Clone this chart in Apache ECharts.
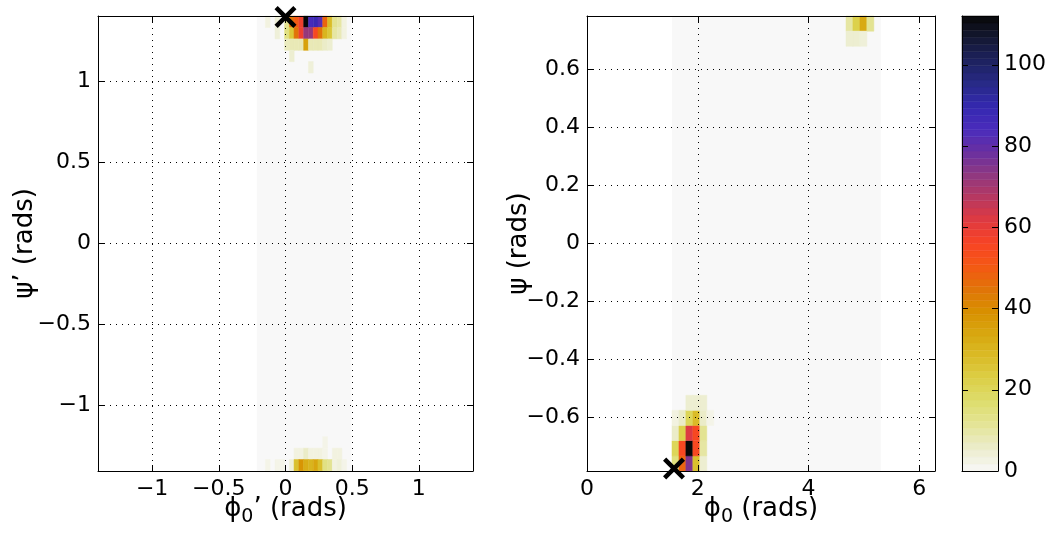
<!DOCTYPE html>
<html><head><meta charset="utf-8">
<script src="https://cdn.jsdelivr.net/npm/echarts@6/dist/echarts.min.js"></script>
<style>html,body{margin:0;padding:0;background:#fff}#c{width:1045px;height:536px}</style>
</head><body><div id="c"></div>
<script>
// ---------------- data ----------------
// left panel: column centres (phi0'), row centres (psi'), counts
const leftColX = [-0.133,-0.097,-0.061,-0.025,0.011,0.047,0.082,0.118,0.154,0.190,0.226,0.261,0.297,0.333,0.369,0.405,0.440];
const leftTopRowY = [1.370, 1.300, 1.229, 1.159, 1.089];
const leftTopVals = [
  [3,0,4,0,12,45,50,58,112,85,88,82,48,28,12,10,3],
  [0,0,4,0,14,25,45,58,72,72,55,45,30,25,10,8,3],
  [0,0,0,0,7,8,8,8,35,8,8,8,6,5,0,0,0],
  [0,0,0,0,0,5,0,0,0,0,0,0,0,0,0,0,0],
  [0,0,0,0,0,0,0,0,0,4,0,0,0,0,0,0,0]
];
const leftBotRowY = [-1.229, -1.300, -1.370];
const leftBotVals = [
  [0,0,0,0,0,0,0,0,0,0,0,0,2,0,0,0,0],
  [0,0,0,0,0,0,3,3,6,3,3,3,2,0,3,3,0],
  [2,0,2,2,0,4,27,38,32,30,34,27,14,12,3,4,2]
];
const leftBand = [-0.215, 0.494];          // phi0' range of sampled (zero-count) cells
const leftMarker = [[0.0, 1.40]];

// right panel
const rightColX = [1.597,1.723,1.848,1.974,2.100,2.225];
const rightBotRowY = [-0.759,-0.707,-0.654,-0.602,-0.550];
const rightBotVals = [
  [15,48,75,27,5,0],
  [20,55,112,55,10,0],
  [6,22,62,55,12,0],
  [3,6,20,28,6,2],
  [0,0,5,5,5,0]
];
const rightTopColX = [4.739,4.864,4.990,5.116];
const rightTopRowY = [0.759, 0.707];
const rightTopVals = [
  [10,22,33,12],
  [5,5,4,0]
];
const rightBand = [1.534, 5.304];
const rightMarker = [[1.571, -0.777]];

// axis ranges / ticks
const leftRange = [-1.406, 1.406];
const rightXRange = [0, 2*Math.PI];
const rightYRange = [-Math.PI/4, Math.PI/4];
const cbarMax = 112;

// colormap (0 -> 112)
const cmap = ['#f8f8f8','#ecedcc','#e4e498','#dede70','#dcd048','#dabc28','#d8a810','#d89000',
  '#e07408','#f45814','#f84424','#e03a40','#b83860','#903880','#6a30a0','#4a2cbc','#3428b0',
  '#282a88','#1e2260','#141834','#080808'];

// ---------------- build ----------------
function cells(colX, rowY, vals){
  const out = [];
  rowY.forEach((y,r)=>colX.forEach((x,c)=>{ const v = vals[r][c]; if (v>0) out.push([x,y,v]); }));
  return out;
}
const leftData = cells(leftColX, leftTopRowY, leftTopVals).concat(cells(leftColX, leftBotRowY, leftBotVals));
const rightData = cells(rightColX, rightBotRowY, rightBotVals).concat(cells(rightTopColX, rightTopRowY, rightTopVals));
const NLEV = 64;
const cbarData = [];
for (let k=0;k<NLEV;k++){ const v=(k+0.5)*cbarMax/NLEV; cbarData.push([0.5, v, v]); }

const FONT = 'DejaVu Sans';
const LDX = 0.03583, LDY = 0.07025, RDX = 2*Math.PI/50, RDY = Math.PI/60;

function cellRender(dx, dy){
  return function(params, api){
    const x = api.value(0), y = api.value(1);
    const p0 = api.coord([x-dx/2, y+dy/2]);
    const p1 = api.coord([x+dx/2, y-dy/2]);
    const c = api.visual('color');
    const rect = echarts.graphic.clipRectByRect(
      {x:p0[0], y:p0[1], width:p1[0]-p0[0], height:p1[1]-p0[1]},
      {x:params.coordSys.x, y:params.coordSys.y, width:params.coordSys.width, height:params.coordSys.height});
    if (!rect) return;
    return {type:'rect', shape:rect, style:{fill:c, stroke:c, lineWidth:0.5}};
  };
}
function bandRender(ymin, ymax){
  return function(params, api){
    const p0 = api.coord([api.value(0), ymax]);
    const p1 = api.coord([api.value(1), ymin]);
    return {type:'rect', shape:{x:p0[0], y:p0[1], width:p1[0]-p0[0], height:p1[1]-p0[1]}, style:{fill:cmap[0]}};
  };
}
function cbarRender(params, api){
  const v = api.value(1), h = cbarMax/NLEV;
  const p0 = api.coord([0, v+h/2]);
  const p1 = api.coord([1, v-h/2]);
  const c = api.visual('color');
  return {type:'rect', shape:{x:p0[0], y:p0[1], width:p1[0]-p0[0], height:p1[1]-p0[1]}, style:{fill:c, stroke:c, lineWidth:0.5}};
}
function fmt(v){ const s = String(+(+v).toFixed(4)); return s.replace('-', '\u2212'); }

const lineBlack = {color:'#000', width:1};
function axis(kind, grid, pos, range, o){
  o = o || {};
  const a = {
    type:'value', gridIndex:grid, position:pos, min:range[0], max:range[1],
    axisLine:{show:true, onZero:false, lineStyle:lineBlack},
    axisTick:{show:o.ticks!==false, inside:true, length:6, lineStyle:lineBlack},
    axisLabel:{show:!!o.labels, fontFamily:FONT, fontSize:22, color:'#000', margin:o.margin||7,
      showMinLabel:o.showMin===true, showMaxLabel:false, formatter:fmt},
    splitLine:{show:!!o.grid, lineStyle:{color:'#000', width:1, type:[1,5]}},
    z:10
  };
  if (o.splitNumber) a.splitNumber = o.splitNumber;
  if (o.interval) a.interval = o.interval;
  if (o.name){ a.name=o.name; a.nameLocation='middle'; a.nameGap=o.nameGap; a.nameRotate=o.nameRotate||0;
    a.nameMoveOverlap=false;
    a.nameTextStyle={fontFamily:FONT, fontSize:26, color:'#000', rich:{
      a:{fontFamily:FONT, fontSize:26, color:'#000'},
      s:{fontFamily:FONT, fontSize:19, color:'#000', padding:[17,0,0,0]}}}; }
  return a;
}
const XSYM = 'path://M0,3.5L3.5,0L12,8.5L20.5,0L24,3.5L15.5,12L24,20.5L20.5,24L12,15.5L3.5,24L0,20.5L8.5,12Z';

const option = {
  backgroundColor:'#fff',
  animation:false,
  grid:[
    {left:98, top:16, width:375, height:455, outerBoundsMode:'none', containLabel:false},
    {left:587, top:16, width:348, height:455, outerBoundsMode:'none', containLabel:false},
    {left:962, top:16, width:36, height:455, outerBoundsMode:'none', containLabel:false}
  ],
  xAxis:[
    axis('x',0,'bottom',leftRange,{labels:true, grid:true, splitNumber:5, name:'{a|ϕ}{s|0}{a|’ (rads)}', nameGap:20}),
    axis('x',0,'top',leftRange,{splitNumber:5}),
    axis('x',1,'bottom',rightXRange,{labels:true, grid:true, interval:2, showMin:true, name:'{a|ϕ}{s|0}{a| (rads)}', nameGap:20}),
    axis('x',1,'top',rightXRange,{interval:2}),
    axis('x',2,'bottom',[0,1],{ticks:false}),
    axis('x',2,'top',[0,1],{ticks:false})
  ],
  yAxis:[
    axis('y',0,'left',leftRange,{labels:true, grid:true, splitNumber:5, name:'ψ’ (rads)', nameGap:60, nameRotate:90}),
    axis('y',0,'right',leftRange,{splitNumber:5}),
    axis('y',1,'left',rightYRange,{labels:true, grid:true, splitNumber:7, name:'ψ (rads)', nameGap:55, nameRotate:90}),
    axis('y',1,'right',rightYRange,{splitNumber:7}),
    axis('y',2,'left',[0,cbarMax],{interval:20}),
    axis('y',2,'right',[0,cbarMax],{labels:true, interval:20, showMin:true, margin:6})
  ],
  visualMap:{type:'continuous', show:false, min:0, max:cbarMax, dimension:2, seriesIndex:[1,3,4], inRange:{color:cmap}},
  series:[
    {type:'custom', xAxisIndex:0, yAxisIndex:0, renderItem:bandRender(leftRange[0],leftRange[1]), data:[leftBand], z:1, silent:true},
    {type:'custom', xAxisIndex:0, yAxisIndex:0, renderItem:cellRender(LDX,LDY), data:leftData, encode:{x:0,y:1}, z:2},
    {type:'custom', xAxisIndex:2, yAxisIndex:2, renderItem:bandRender(rightYRange[0],rightYRange[1]), data:[rightBand], z:1, silent:true},
    {type:'custom', xAxisIndex:2, yAxisIndex:2, renderItem:cellRender(RDX,RDY), data:rightData, encode:{x:0,y:1}, z:2},
    {type:'custom', xAxisIndex:4, yAxisIndex:4, renderItem:cbarRender, data:cbarData, encode:{x:0,y:1}, z:2},
    {type:'scatter', xAxisIndex:0, yAxisIndex:0, data:leftMarker, clip:false, z:20,
      symbol:XSYM, symbolSize:22, itemStyle:{color:'#000', opacity:1}},
    {type:'scatter', xAxisIndex:2, yAxisIndex:2, data:rightMarker, clip:false, z:20,
      symbol:XSYM, symbolSize:22, itemStyle:{color:'#000', opacity:1}}
  ]
};
const chart = echarts.init(document.getElementById('c'), null, {renderer:'canvas'});
chart.setOption(option);
</script></body></html>
